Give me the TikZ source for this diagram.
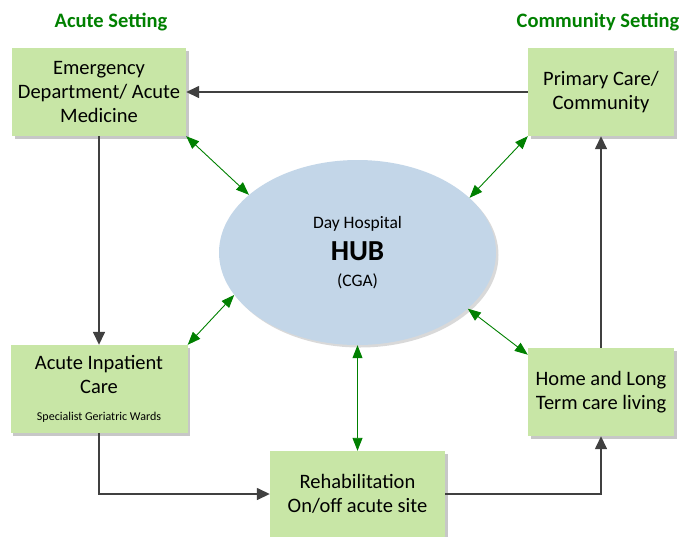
\documentclass[tikz,border=0pt]{standalone}
\usepackage{fontspec}
\setmainfont{Carlito}
\usetikzlibrary{shapes.geometric,arrows.meta,shadows}
\definecolor{boxgreen}{RGB}{200,230,166}
\definecolor{hubblue}{RGB}{195,214,232}
\definecolor{linkgreen}{RGB}{0,128,0}
\definecolor{flowgray}{RGB}{64,64,64}

\begin{document}
\begin{tikzpicture}[x=1pt,y=-1pt,
    box/.style={rectangle,fill=boxgreen,align=center,inner sep=0pt,
      font=\fontsize{20.5}{24}\selectfont,
      drop shadow={shadow xshift=2.5pt,shadow yshift=-2.5pt,fill=black!22,opacity=1}},
    flow/.style={draw=flowgray,line width=1.5pt,-{Triangle[length=13pt,width=12pt]}},
    link/.style={draw=linkgreen,line width=0.9pt,
      {Triangle[length=13pt,width=10pt]}-{Triangle[length=13pt,width=10pt]}},
    title/.style={text=linkgreen,font=\fontsize{20.5}{24}\selectfont\bfseries}]
  \useasboundingbox (0,0) rectangle (682,536);
  % settings
  \node[title] (acute) at (111,22) {Acute Setting};
  \node[title] (community) at (598,22) {Community Setting};
  % boxes round the hub
  \node[box,minimum width=174pt,minimum height=88pt] (ed) at (99,92)
    {Emergency\\Department/ Acute\\Medicine};
  \node[box,minimum width=146pt,minimum height=88pt] (pc) at (601,92)
    {Primary Care/\\Community};
  \node[box,minimum width=177pt,minimum height=88pt] (ai) at (99,389)
    {Acute Inpatient\\Care\\[3pt]{\fontsize{12}{14}\selectfont Specialist Geriatric Wards}};
  \node[box,minimum width=146pt,minimum height=88pt] (hl) at (601,392)
    {Home and Long\\Term care living};
  \node[box,minimum width=175pt,minimum height=86pt] (rh) at (357.5,494)
    {Rehabilitation\\On/off acute site};
  \node[ellipse,fill=hubblue,minimum width=277pt,minimum height=185pt,inner sep=0pt,
    align=center,font=\fontsize{17.5}{29}\selectfont,
    drop shadow={shadow xshift=2.5pt,shadow yshift=-2.5pt,fill=black!15,opacity=1}]
    (hub) at (357.5,252.5)
    {Day Hospital\\[3pt]{\fontsize{29}{29}\selectfont\bfseries HUB}\\[-3pt](CGA)};
  % patient flow
  \draw[flow] (pc.west) -- (ed.east);
  \draw[flow] (ed) -- (ai);
  \draw[flow] (ai.south) |- (rh.west);
  \draw[flow] (rh.east) -| (hl.south);
  \draw[flow] (hl) -- (pc);
  % links to the hub
  \draw[link] (ed.south east) -- (hub.152);
  \draw[link] (pc.south west) -- (hub.26);
  \draw[link] (ai.north east) -- (hub.199);
  \draw[link] (hl.153) -- (hub.333);
  \draw[link] (rh) -- (hub);
\end{tikzpicture}
\end{document}
